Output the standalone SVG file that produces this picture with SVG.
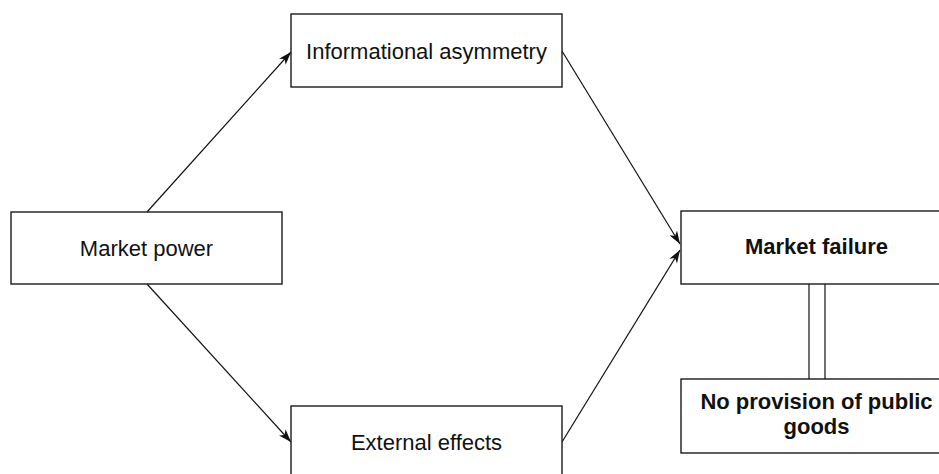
<svg xmlns="http://www.w3.org/2000/svg" width="939" height="474" viewBox="0 0 939 474">
  <style>
    .box { fill: #ffffff; stroke: #1a1a1a; stroke-width: 1.4; }
    .lbl { font-family: "Liberation Sans", Arial, Helvetica, sans-serif; font-size: 22px; fill: #111111; text-anchor: middle; }
    .bold { font-weight: bold; }
    .edge { stroke: #111111; stroke-width: 1.2; fill: none; }
    .arrow { marker-end: url(#head); }
  </style>
  <defs>
    <marker id="head" viewBox="0 0 13 9" refX="13" refY="4.5" markerWidth="13" markerHeight="9" markerUnits="userSpaceOnUse" orient="auto">
      <path d="M0,0 L13,4.5 L0,9 L3.5,4.5 Z" fill="#111111"/>
    </marker>
  </defs>

  <rect width="939" height="474" fill="#ffffff"/>

  <!-- connectors -->
  <g id="connectors">
    <line class="edge arrow" x1="147" y1="212" x2="291" y2="52"/>
    <line class="edge arrow" x1="147" y1="284" x2="291" y2="442"/>
    <line class="edge arrow" x1="562" y1="51" x2="680" y2="244"/>
    <line class="edge arrow" x1="562" y1="442" x2="680" y2="250"/>
    <line class="edge" x1="809" y1="284" x2="809" y2="379"/>
    <line class="edge" x1="825" y1="284" x2="825" y2="379"/>
  </g>

  <g id="market-power">
    <rect class="box" x="11" y="212" width="271" height="72"/>
    <text class="lbl" x="146.5" y="256">Market power</text>
  </g>

  <g id="informational-asymmetry">
    <rect class="box" x="291" y="14" width="271" height="73"/>
    <text class="lbl" x="426.5" y="59">Informational asymmetry</text>
  </g>

  <g id="external-effects">
    <rect class="box" x="291" y="406" width="271" height="73"/>
    <text class="lbl" x="426.5" y="450">External effects</text>
  </g>

  <g id="market-failure">
    <rect class="box" x="681" y="211" width="271" height="73"/>
    <text class="lbl bold" x="816.5" y="254">Market failure</text>
  </g>

  <g id="no-public-goods">
    <rect class="box" x="681" y="379" width="271" height="74"/>
    <text class="lbl bold" x="816.5" y="409">No provision of public</text>
    <text class="lbl bold" x="816.5" y="434">goods</text>
  </g>
</svg>
